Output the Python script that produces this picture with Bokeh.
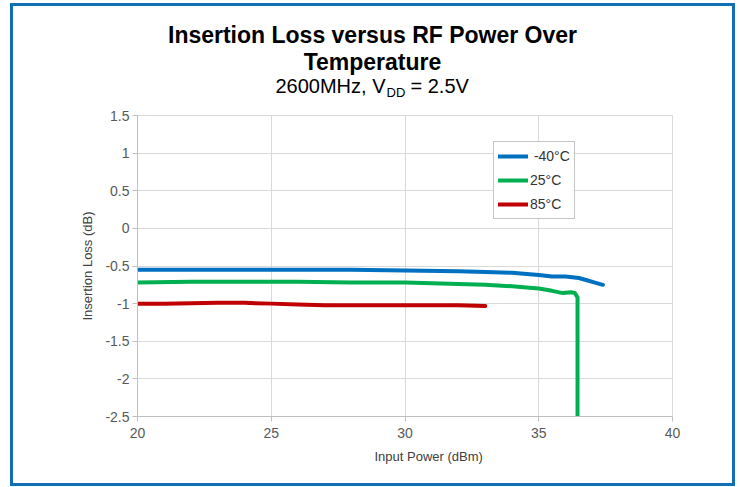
from bokeh.plotting import figure
from bokeh.layouts import column
from bokeh.models import Range1d, FixedTicker, Title
from bokeh.core.properties import value
from bokeh.embed import file_html
from bokeh.resources import INLINE

# ---------------- data ----------------
power_m40 = [20, 22, 24, 26, 28, 30, 32, 33, 34, 35, 35.5, 36, 36.5, 36.8, 37.1, 37.4]
il_m40 = [-0.55, -0.55, -0.55, -0.55, -0.55, -0.56, -0.57, -0.58, -0.59, -0.62, -0.64, -0.64, -0.66, -0.69, -0.72, -0.75]

power_25 = [20, 22, 24, 26, 28, 30, 32, 33, 34, 35, 35.5, 35.9, 36.2, 36.35, 36.45, 36.45]
il_25 = [-0.72, -0.71, -0.71, -0.71, -0.72, -0.72, -0.74, -0.75, -0.77, -0.80, -0.83, -0.86, -0.85, -0.86, -0.92, -2.5]

power_85 = [20, 21, 23, 24, 25, 26, 27, 28, 30, 31, 32, 33]
il_85 = [-1.00, -1.00, -0.99, -0.99, -1.00, -1.01, -1.02, -1.02, -1.02, -1.02, -1.02, -1.03]

series_labels = ["\u00a0-40\u00b0C", "25\u00b0C", "85\u00b0C"]
series_colors = ["#0070c0", "#00b050", "#c00000"]

x_ticks = [20, 25, 30, 35, 40]
x_tick_labels = ["20", "25", "30", "35", "40"]
y_ticks = [1.5, 1, 0.5, 0, -0.5, -1, -1.5, -2, -2.5]
y_tick_labels = ["1.5", "1", "0.5", "0", "-0.5", "-1", "-1.5", "-2", "-2.5"]

title_line1 = "Insertion Loss versus RF Power Over"
title_line2 = "Temperature"
sub_a, sub_b, sub_c = "2600MHz, V", "DD", "= 2.5V"
x_label = "Input Power (dBm)"
y_label = "Insertion Loss (dB)"

FONT = "Liberation Sans"

# ---------------- layout (page px) ----------------
OX, OY = 13, 6            # content origin inside blue frame
CW = 719                  # content width
HH = 95                   # header height
MH = 382                  # main figure height
FL, FR, FT, FB = 137, 672, 115, 416   # plot frame edges (page px)

# ---------------- header figure (titles); its frame is aligned with the main frame ----------------
hdr = figure(width=CW, height=HH, x_range=Range1d(FL, FR), y_range=Range1d(OY + HH, OY),
             output_backend="svg", toolbar_location=None, title=None,
             x_axis_type=None, y_axis_type=None,
             min_border=0, min_border_left=0, min_border_right=0,
             min_border_top=0, min_border_bottom=0)
hdr.grid.visible = False
hdr.outline_line_color = None
hdr.background_fill_color = "white"
hdr.border_fill_color = "white"


def base(y, fs):
    # text glyph baseline correction (rendered ~0.39 em lower than requested)
    return y - 0.39 * fs


hdr.text(x=[372], y=[base(43, 23)], text=[title_line1], text_align="center",
         text_baseline="alphabetic", text_font=value(FONT), text_font_style="bold",
         text_font_size="23px", text_color="#000000")
hdr.text(x=[372], y=[base(70, 23)], text=[title_line2], text_align="center",
         text_baseline="alphabetic", text_font=value(FONT), text_font_style="bold",
         text_font_size="23px", text_color="#000000")
anchor = 385
hdr.text(x=[anchor], y=[base(93, 20)], text=[sub_a], text_align="right",
         text_baseline="alphabetic", text_font=value(FONT), text_font_size="20px",
         text_color="#000000")
hdr.text(x=[anchor + 1], y=[base(97, 13)], text=[sub_b], text_align="left",
         text_baseline="alphabetic", text_font=value(FONT), text_font_size="13px",
         text_color="#000000")
hdr.text(x=[anchor + 25], y=[base(93, 20)], text=[sub_c], text_align="left",
         text_baseline="alphabetic", text_font=value(FONT), text_font_size="20px",
         text_color="#000000")

# ---------------- main figure ----------------
top_main = OY + HH
p = figure(width=CW, height=MH, x_range=Range1d(20, 40), y_range=Range1d(-2.5, 1.5),
           output_backend="svg", toolbar_location=None, title=None,
           min_border_left=FL - OX, min_border_right=CW - (FR - OX),
           min_border_top=FT - top_main, min_border_bottom=MH - (FB - top_main))
p.background_fill_color = "white"
p.border_fill_color = "white"
p.outline_line_color = "#d9d9d9"

for ax in (p.xaxis[0], p.yaxis[0]):
    ax.axis_line_color = "#bfbfbf"
    ax.major_tick_line_color = "#bfbfbf"
    ax.minor_tick_line_color = None
    ax.major_tick_in = 0
    ax.major_tick_out = 5
    ax.major_label_text_font = FONT
    ax.major_label_text_font_size = "14px"
    ax.major_label_text_color = "#595959"

p.xaxis.ticker = FixedTicker(ticks=x_ticks)
p.xaxis.major_label_overrides = {t: l for t, l in zip(x_ticks, x_tick_labels)}
p.xaxis.major_label_standoff = 6
p.yaxis.ticker = FixedTicker(ticks=y_ticks)
p.yaxis.major_label_overrides = {t: l for t, l in zip(y_ticks, y_tick_labels)}
p.yaxis.major_label_standoff = 3

p.yaxis.axis_label = y_label
p.yaxis.axis_label_text_font = FONT
p.yaxis.axis_label_text_font_size = "13px"
p.yaxis.axis_label_text_font_style = "normal"
p.yaxis.axis_label_text_color = "#404040"
p.yaxis.axis_label_standoff = 7

p.add_layout(Title(text=x_label, align="left", offset=237, text_font=FONT,
                   text_font_size="13px", text_font_style="normal",
                   text_color="#404040", standoff=13), "below")

p.xgrid.grid_line_color = "#d9d9d9"
p.ygrid.grid_line_color = "#d9d9d9"

for xs, ys, lab, col in zip([power_m40, power_25, power_85], [il_m40, il_25, il_85],
                            series_labels, series_colors):
    p.line(xs, ys, line_color=col, line_width=4, line_join="round", line_cap="round",
           legend_label=lab)

lg = p.legend[0]
lg.location = (356, 197)
lg.border_line_color = "#8c8c8c"
lg.border_line_width = 1
lg.background_fill_color = "white"
lg.label_text_font = FONT
lg.label_text_font_size = "14px"
lg.label_text_color = "#333333"
lg.glyph_width = 30
lg.glyph_height = 20
lg.label_height = 20
lg.spacing = 4
lg.padding = 4
lg.margin = 0
lg.label_standoff = 2

layout = column(hdr, p, spacing=0,
                styles={"border": "3px solid #0f70b7", "margin-left": "10px",
                        "margin-top": "3px", "background-color": "white"})

open("out.html", "w").write(file_html(layout, INLINE))
